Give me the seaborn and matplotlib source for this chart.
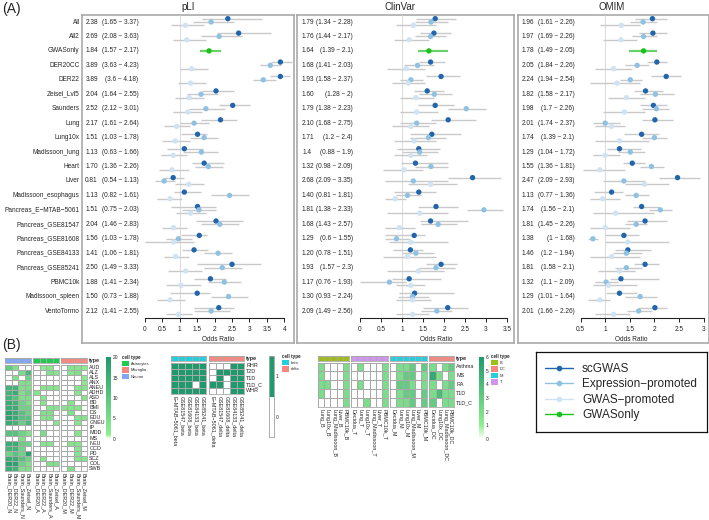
import numpy as np
import pandas as pd
import matplotlib
matplotlib.use("Agg")
import matplotlib.pyplot as plt
import matplotlib.transforms as mtransforms
from matplotlib.colors import LinearSegmentedColormap, ListedColormap
from matplotlib.lines import Line2D
from matplotlib.patches import Patch
import seaborn as sns

sns.set_style("white")
plt.rcParams["font.family"] = ["Liberation Sans", "DejaVu Sans"]

# ---------------------------------------------------------------- data (A)
rows = ["All", "All2", "GWASonly", "DER20CC", "DER22", "Zeisel_Lvl5", "Saunders",
        "Lung", "Lung10x", "Madissoon_lung", "Heart", "Liver", "Madissoon_esophagus",
        "Pancreas_E\u2212MTAB\u22125061", "Pancreas_GSE81547", "Pancreas_GSE81608",
        "Pancreas_GSE84133", "Pancreas_GSE85241", "PBMC10k", "Madissoon_spleen", "VentoTormo"]

pli_sc_or = ["2.38", "2.69", "1.84", "3.89", "3.89", "2.04", "2.52", "2.17", "1.51", "1.13", "1.70",
             "0.81", "1.13", "1.51", "2.04", "1.56", "1.41", "2.50", "1.88", "1.50", "2.12"]
pli_sc_lo = ["1.65", "2.08", "1.57", "3.63", "3.6", "1.64", "2.12", "1.61", "1.03", "0.63", "1.36",
             "0.54", "0.82", "0.75", "1.46", "1.03", "1.06", "1.49", "1.41", "0.73", "1.41"]
pli_sc_hi = ["3.37", "3.63", "2.17", "4.23", "4.18", "2.55", "3.01", "2.64", "1.78", "1.66", "2.26",
             "1.13", "1.61", "2.03", "2.83", "1.78", "1.81", "3.33", "2.34", "1.88", "2.55"]
pli_ex_or = [1.90, 2.13, np.nan, 3.60, 3.40, 1.61, 1.75, 1.41, 1.70, 1.62, 1.82, 0.55, 2.43, 1.55, 2.15, 0.96, 2.10, 2.22, 2.28, 2.40, 1.90]
pli_ex_lo = [1.38, 1.60, np.nan, 3.30, 3.10, 1.20, 1.25, 1.00, 1.30, 1.10, 1.45, 0.30, 1.90, 1.05, 1.60, 0.60, 1.70, 1.70, 1.80, 1.90, 1.40]
pli_ex_hi = [2.55, 2.80, np.nan, 3.90, 3.75, 2.10, 2.30, 1.85, 2.10, 2.10, 2.25, 0.85, 3.00, 2.05, 2.70, 1.35, 2.50, 2.80, 2.75, 2.95, 2.45]
pli_gp_or = [1.16, 1.20, np.nan, 1.34, 1.31, 1.27, 1.23, 0.91, 0.87, 0.81, 0.78, 1.26, 0.72, 1.31, 0.82, 0.82, 0.88, 1.17, 1.03, 0.72, 0.96]
pli_gp_lo = [0.75, 0.80, np.nan, 1.00, 0.95, 0.85, 0.80, 0.55, 0.50, 0.45, 0.40, 0.85, 0.35, 0.90, 0.50, 0.00, 0.55, 0.65, 0.60, 0.35, 0.60]
pli_gp_hi = [1.70, 1.75, np.nan, 1.80, 1.75, 1.70, 1.65, 1.30, 1.30, 1.20, 1.25, 1.70, 1.05, 1.75, 1.20, 1.40, 1.25, 1.65, 1.60, 1.15, 1.35]

clin_sc_or = ["1.79", "1.76", "1.64", "1.68", "1.93", "1.60", "1.79", "2.10", "1.71", "1.4", "1.32",
              "2.68", "1.40", "1.81", "1.68", "1.29", "1.20", "1.93", "1.17", "1.30", "2.09"]
clin_sc_lo = ["1.34", "1.44", "1.39", "1.41", "1.58", "1.28", "1.38", "1.68", "1.2", "0.88", "0.98",
              "2.09", "0.81", "1.38", "1.43", "0.6", "0.78", "1.57", "0.76", "0.93", "1.49"]
clin_sc_hi = ["2.28", "2.17", "2.1", "2.03", "2.37", "2", "2.23", "2.75", "2.4", "1.9", "2.09",
              "3.35", "1.81", "2.33", "2.57", "1.55", "1.51", "2.3", "1.93", "2.24", "2.56"]
clin_ex_or = [1.69, 1.68, np.nan, 1.37, 1.21, 1.77, 2.53, 1.35, 1.63, 1.42, 1.69, 1.27, 1.13, 2.95, 1.86, 0.87, 1.33, 1.81, 0.70, 1.25, 1.83]
clin_ex_lo = [1.30, 1.30, np.nan, 1.05, 0.95, 1.40, 2.10, 0.95, 1.20, 1.00, 1.30, 0.60, 0.85, 2.55, 1.45, 0.60, 1.00, 1.40, 0.00, 0.90, 1.45]
clin_ex_hi = [2.10, 2.05, np.nan, 1.75, 1.50, 2.20, 3.00, 1.80, 2.05, 1.85, 2.10, 2.10, 1.45, 3.40, 2.30, 1.20, 1.75, 2.25, 1.10, 1.65, 2.20]
clin_gp_or = [1.27, 1.17, np.nan, 1.10, 1.15, 1.33, 1.35, 1.21, 1.29, 1.21, 1.05, 1.68, 0.84, 1.42, 0.94, 1.21, 1.13, 1.39, 1.21, 1.25, 1.25]
clin_gp_lo = [0.85, 0.80, np.nan, 0.65, 0.75, 0.95, 0.95, 0.75, 0.80, 0.80, 0.55, 1.15, 0.60, 0.65, 0.60, 0.70, 0.55, 0.65, 0.85, 0.85, 0.85]
clin_gp_hi = [1.80, 1.65, np.nan, 1.55, 1.55, 1.75, 1.85, 1.65, 1.80, 1.60, 1.50, 2.30, 1.10, 2.10, 1.30, 2.10, 1.80, 2.00, 1.55, 1.70, 1.65]

omim_sc_or = ["1.96", "1.97", "1.78", "2.05", "2.24", "1.82", "1.98", "2.01", "1.74", "1.29", "1.55",
              "2.47", "1.13", "1.74", "1.81", "1.38", "1.46", "1.81", "1.32", "1.29", "2.01"]
omim_sc_lo = ["1.61", "1.69", "1.49", "1.84", "1.94", "1.58", "1.7", "1.74", "1.39", "1.04", "1.36",
              "2.09", "0.77", "1.56", "1.45", "1", "1.2", "1.58", "1.1", "1.01", "1.66"]
omim_sc_hi = ["2.26", "2.26", "2.05", "2.26", "2.54", "2.17", "2.26", "2.37", "2.1", "1.72", "1.81",
              "2.93", "1.36", "2.1", "2.26", "1.68", "1.94", "2.1", "2.09", "1.64", "2.26"]
omim_ex_or = [1.77, 1.78, np.nan, 1.65, 1.51, 2.02, 2.04, 1.00, 2.00, 1.51, 1.94, 1.38, 1.63, 2.12, 1.63, 0.75, 1.43, 1.43, 1.02, 1.71, 1.68]
omim_ex_lo = [1.50, 1.55, np.nan, 1.40, 1.30, 1.70, 1.75, 0.75, 1.75, 1.25, 1.70, 0.95, 1.40, 1.90, 1.40, 0.65, 1.15, 1.20, 0.80, 1.40, 1.45]
omim_ex_hi = [2.05, 2.05, np.nan, 1.90, 1.75, 2.40, 2.30, 1.30, 2.25, 1.80, 2.20, 1.80, 1.90, 2.35, 1.85, 0.85, 1.75, 1.75, 1.25, 2.05, 1.95]
omim_gp_or = [1.33, 1.32, np.nan, 1.17, 1.24, 1.43, 1.39, 1.13, 1.29, 1.00, 0.89, 1.80, 0.95, 1.21, 1.00, 1.46, 1.13, 1.29, 1.07, 0.89, 1.17]
omim_gp_lo = [0.90, 0.95, np.nan, 0.80, 0.70, 1.05, 0.95, 0.80, 0.80, 0.75, 0.55, 1.40, 0.70, 0.75, 0.70, 1.00, 0.70, 0.85, 0.75, 0.65, 0.80]
omim_gp_hi = [1.70, 1.65, np.nan, 1.55, 1.70, 1.80, 1.80, 1.40, 1.90, 1.30, 1.40, 2.30, 1.30, 2.00, 1.50, 2.30, 1.70, 1.60, 1.65, 1.10, 1.50]

series_names = ["scGWAS", "Expression\u2212promoted", "GWAS\u2212promoted", "GWASonly"]
series_colors = ["#2166ad", "#8fc2e2", "#d0e3f3", "#19c419"]
series_lines = ["#c9c9c9", "#c9c9c9", "#c9c9c9", "#6ad26a"]

# ---------------------------------------------------------------- data (B)
hm1_rows = ["AUD", "ALZ", "ALS", "ANX", "ANEU", "ADHD", "ASD", "BD", "BMI", "DS", "EDU", "GNEU",
            "IP", "MDD", "MS", "NEU", "OCD", "PD", "SCZ", "COL", "SWB"]
hm1_groups = ["Neuron", "Astrocytes", "Microglia"]
hm1_cols = [["Brain_DER20_N", "Brain_DER22_N", "Brain_Saunders_N", "Brain_Zeisel_N"],
            ["Brain_DER20_A", "Brain_DER22_A", "Brain_Saunders_A", "Brain_Zeisel_A"],
            ["Brain_DER20_M", "Brain_DER22_M", "Brain_Saunders_M", "Brain_Zeisel_M"]]
hm1_values = [
    [9, 4, 0, 0, 0, 2, 3, 0, 0, 3, 3, 2],
    [0, 0, 5, 13, 0, 0, 4, 3, 0, 3, 4, 0],
    [0, 4, 0, 7, 0, 0, 0, 0, 0, 0, 0, 2],
    [0, 0, 4, 4, 0, 0, 0, 0, 0, 0, 0, 2],
    [14, 14, 4, 4, 0, 3, 3, 3, 0, 0, 3, 3],
    [14, 16, 4, 7, 3, 0, 0, 0, 0, 0, 3, 0],
    [14, 11, 4, 4, 0, 3, 0, 0, 0, 0, 0, 3],
    [16, 14, 7, 4, 0, 3, 0, 0, 0, 3, 0, 0],
    [16, 16, 7, 7, 0, 0, 3, 3, 3, 3, 3, 0],
    [18, 16, 11, 7, 0, 4, 4, 0, 0, 4, 0, 0],
    [18, 16, 11, 11, 0, 3, 4, 0, 0, 0, 3, 3],
    [16, 14, 8, 13, 0, 0, 0, 3, 0, 0, 3, 0],
    [0, 0, 0, 0, 0, 0, 0, 0, 0, 0, 0, 0],
    [11, 11, 7, 4, 0, 5, 0, 0, 0, 0, 3, 0],
    [0, 0, 4, 0, 0, 0, 0, 0, 0, 0, 0, 0],
    [16, 16, 8, 7, 0, 3, 3, 0, 0, 3, 3, 0],
    [14, 14, 7, 0, 0, 0, 0, 0, 0, 0, 3, 0],
    [7, 11, 7, 18, 0, 0, 0, 0, 0, 0, 3, 0],
    [16, 16, 11, 7, 0, 3, 0, 0, 0, 0, 3, 3],
    [18, 18, 7, 4, 0, 0, 4, 4, 0, 0, 0, 0],
    [16, 14, 4, 4, 0, 0, 0, 0, 0, 4, 0, 0],
]
hm1_ticks = [0, 5, 10, 15, 20]

hm2_rows = ["RHR", "T2D", "T1D", "T1D_C", "WHR"]
hm2_groups = ["beta", "delta"]
hm2_cols = [["E\u2212MTAB\u22125061_beta", "GSE81547_beta", "GSE81608_beta", "GSE84133_beta", "GSE85241_beta"],
            ["E\u2212MTAB\u22125061_delta", "GSE81547_delta", "GSE81608_delta", "GSE84133_delta", "GSE85241_delta"]]
hm2_values = [
    [1, 1, 1, 1, 1, 0, 0, 0, 1, 1],
    [1, 1, 1, 1, 1, 0, 1, 1, 1, 1],
    [1, 1, 1, 1, 1, 0, 1, 0, 1, 1],
    [1, 1, 1, 0, 1, 1, 1, 0, 1, 1],
    [1, 1, 1, 1, 1, 0, 0, 0, 1, 1],
]

hm3_rows = ["Asthma", "MS", "RA", "T1D", "T1D_C"]
hm3_groups = ["B", "T", "M", "DC"]
hm3_cols = [["Lung_B", "Lung10x_B", "Lung_Madissoon_B", "Liver_B", "PBMC10k_B"],
            ["Decidua_T", "Lung_T", "Lung10x_T", "Lung_Madissoon_T", "Liver_T", "PBMC10k_T"],
            ["Decidua_M", "Lung_M", "Lung10x_M", "Lung_Madissoon_M", "Liver_M", "PBMC10k_M"],
            ["Decidua_DC", "Lung10x_DC", "Lung_Madissoon_DC", "PBMC10k_DC"]]
hm3_values = [
    [2, 0, 0, 0, 2, 0, 2, 0, 0, 0, 2, 0, 2, 2, 3, 0, 3, 2, 0, 2, 3],
    [2, 0, 0, 0, 2, 0, 0, 0, 0, 0, 2, 0, 2, 3, 3, 0, 2, 5, 2, 0, 2],
    [2, 2, 0, 0, 2, 0, 2, 0, 0, 0, 2, 0, 3, 3, 2, 0, 2, 2, 0, 2, 3],
    [2, 0, 0, 0, 2, 0, 0, 0, 0, 0, 2, 0, 2, 3, 3, 0, 3, 2, 4, 2, 2],
    [0, 0, 0, 0, 2, 0, 0, 2, 0, 0, 2, 0, 2, 2, 3, 0, 3, 3, 0, 2, 2],
]
hm3_ticks = [0, 1, 2, 3, 4, 5, 6]

celltype_colors = {"Neuron": "#80a6f6", "Astrocytes": "#1ecb4e", "Microglia": "#f7877f",
                   "beta": "#23cfdd", "delta": "#f7877f",
                   "B": "#9fbd17", "T": "#cf95ef", "M": "#23cfdd", "DC": "#f7877f"}

# ---------------------------------------------------------------- layout helpers
W, H = 709, 520
fig = plt.figure(figsize=(W / 100, H / 100), dpi=100)
fig.patch.set_facecolor("white")


def box(x0, y0, x1, y1):
    return [x0 / W, 1 - y1 / H, (x1 - x0) / W, (y1 - y0) / H]


FRAME = "#a3a3a3"
ROW0, ROWH, OFF = 22.0, 14.45, 0.23
TOP, AXY, BOT = 15, 318, 343
FS = 4.7


def forest(title, title_x, fx0, fx1, ax0, ax1, a, b, ticks, val_x, ci_x,
           sc_or, sc_lo, sc_hi, ex_or, ex_lo, ex_hi, gp_or, gp_lo, gp_hi, show_rows):
    fr = fig.add_axes(box(fx0, TOP, fx1, BOT))
    fr.set_xticks([]); fr.set_yticks([])
    fr.patch.set_visible(False)
    for s in fr.spines.values():
        s.set_visible(True); s.set_color(FRAME); s.set_linewidth(1.1)
    fig.text(title_x / W, 1 - 7 / H, title, fontsize=7, ha="center", va="center")

    ax = fig.add_axes(box(ax0, TOP, ax1, AXY))
    ax.patch.set_visible(False)
    recs = []
    for i, r in enumerate(rows):
        if r == "GWASonly":
            recs.append((float(sc_or[i]), float(sc_lo[i]), float(sc_hi[i]), i, series_names[3]))
        else:
            recs.append((float(sc_or[i]), float(sc_lo[i]), float(sc_hi[i]), i - OFF, series_names[0]))
            recs.append((ex_or[i], ex_lo[i], ex_hi[i], i, series_names[1]))
            recs.append((gp_or[i], gp_lo[i], gp_hi[i], i + OFF, series_names[2]))
    df = pd.DataFrame(recs, columns=["odds", "lo", "hi", "y", "series"])
    ax.axvline(1, color="#d6d6d6", lw=0.6, zorder=0)
    for k, name in enumerate(series_names):
        g = df[df["series"] == name]
        ax.hlines(g["y"], g["lo"], g["hi"], colors=series_lines[k],
                  lw=1.6 if name == "GWASonly" else 1.0, zorder=1, clip_on=False)
    sns.scatterplot(data=df, x="odds", y="y", hue="series", hue_order=series_names,
                    palette=dict(zip(series_names, series_colors)), s=15, linewidth=0,
                    legend=False, ax=ax, zorder=3, clip_on=False)
    ax.set_xlim((ax0 - a) / b, (ax1 - a) / b)
    ax.set_ylim((AXY - ROW0) / ROWH, (TOP - ROW0) / ROWH)
    for s in ["top", "left", "right"]:
        ax.spines[s].set_visible(False)
    ax.spines["bottom"].set_visible(True)
    ax.spines["bottom"].set_color("#222222")
    ax.spines["bottom"].set_linewidth(0.8)
    ax.spines["bottom"].set_bounds(ticks[0], ticks[-1])
    ax.set_xticks(ticks)
    ax.set_xticklabels([f"{t:g}" for t in ticks])
    ax.set_yticks([])
    ax.tick_params(axis="x", length=3, width=0.7, color="#222222", labelsize=FS,
                   labelcolor="#222222", pad=3, bottom=True)
    ax.set_xlabel("Odds Ratio", fontsize=FS, labelpad=2, color="#222222")
    ax.set_ylabel("")

    tr = mtransforms.blended_transform_factory(fig.transFigure, ax.transData)
    for i, r in enumerate(rows):
        ax.text(val_x / W, i, sc_or[i], transform=tr, fontsize=FS, ha="center", va="center")
        ax.text(ci_x / W, i, f"({sc_lo[i]} ~ {sc_hi[i]})", transform=tr, fontsize=FS,
                ha="right", va="center")
        if show_rows:
            ax.text(79.7 / W, i, r, transform=tr, fontsize=FS, ha="right", va="center")


forest("pLI", 188, 82, 294, 145, 292, 145.0, 34.8, [0, 0.5, 1, 1.5, 2, 2.5, 3, 3.5, 4], 91.5, 138.3,
       pli_sc_or, pli_sc_lo, pli_sc_hi, pli_ex_or, pli_ex_lo, pli_ex_hi,
       pli_gp_or, pli_gp_lo, pli_gp_hi, True)
forest("ClinVar", 400, 297, 514, 360, 512, 360.0, 42.0, [0, 0.5, 1, 1.5, 2, 2.5, 3, 3.5], 307.5, 352.7,
       clin_sc_or, clin_sc_lo, clin_sc_hi, clin_ex_or, clin_ex_lo, clin_ex_hi,
       clin_gp_or, clin_gp_lo, clin_gp_hi, False)
forest("OMIM", 612, 518, 709, 556, 707, 556.0, 49.2, [0.5, 1, 1.5, 2, 2.5, 3], 527.8, 574.3,
       omim_sc_or, omim_sc_lo, omim_sc_hi, omim_ex_or, omim_ex_lo, omim_ex_hi,
       omim_gp_or, omim_gp_lo, omim_gp_hi, False)

fig.text(2 / W, 1 - 9 / H, "(A)", fontsize=10, ha="left", va="center")
fig.text(2 / W, 1 - 345 / H, "(B)", fontsize=10, ha="left", va="center")

# ---------------------------------------------------------------- heatmaps (B)
GRID = "#a9a9a9"
HFS = 3.9
LIGHT, DARK = "#90ee90", "#1f9a6c"


def green_cmap(vmax):
    return LinearSegmentedColormap.from_list("g", [(0, "white"), (1.0 / vmax, LIGHT), (1, DARK)])


def heat_block(values, rows_, groups, cols, xs, y_anno, y_grid, cmap, vmin, vmax, cax, cticks):
    start = 0
    for gi, (grp, cl) in enumerate(zip(groups, cols)):
        x0, x1 = xs[gi]
        n = len(cl)
        sub = pd.DataFrame([r[start:start + n] for r in values], index=rows_, columns=cl)
        start += n
        an = fig.add_axes(box(x0, y_anno[0], x1, y_anno[1]))
        sns.heatmap(pd.DataFrame(np.zeros((1, n))), ax=an,
                    cmap=ListedColormap([celltype_colors[grp]]), cbar=False,
                    linewidths=0.5, linecolor=GRID, xticklabels=False, yticklabels=False)
        for s in an.spines.values():
            s.set_visible(True); s.set_color(GRID); s.set_linewidth(0.6)
        last = gi == len(groups) - 1
        if last:
            an.text(1.0 + 2.0 / (x1 - x0), 0.5, "type", transform=an.transAxes,
                    fontsize=HFS, fontweight="bold", ha="left", va="center")
        ax = fig.add_axes(box(x0, y_grid[0], x1, y_grid[1]))
        use_cbar = cax is not None and gi == 0
        sns.heatmap(sub, ax=ax, cmap=cmap, vmin=vmin, vmax=vmax, linewidths=0.5, linecolor=GRID,
                    cbar=use_cbar, cbar_ax=cax if use_cbar else None,
                    cbar_kws={"ticks": cticks} if use_cbar else None,
                    xticklabels=True, yticklabels=last)
        ax.set_xlabel(""); ax.set_ylabel("")
        ax.tick_params(length=0, pad=1.5, labelsize=HFS)
        plt.setp(ax.get_xticklabels(), rotation=-90, ha="center", va="top")
        if last:
            ax.yaxis.tick_right()
            ax.tick_params(axis="y", length=0, pad=1.5)
            plt.setp(ax.get_yticklabels(), rotation=0, ha="left", va="center")
        for s in ax.spines.values():
            s.set_visible(True); s.set_color(GRID); s.set_linewidth(0.6)
        if use_cbar:
            cb = ax.collections[0].colorbar
            cb.outline.set_visible(False)
            cax.tick_params(labelsize=3.5, length=0, pad=1.5)


def ct_legend(x, y, names):
    handles = [Patch(facecolor=celltype_colors[n], edgecolor="none") for n in names]
    lg = fig.legend(handles, names, title="cell type", loc="upper left",
                    bbox_to_anchor=(x / W, 1 - y / H), fontsize=2.9, title_fontsize=3.3,
                    frameon=False, handlelength=1.7, handleheight=1.7, handletextpad=0.5,
                    labelspacing=0.25, borderpad=0, borderaxespad=0, alignment="left")
    lg.get_title().set_fontweight("bold")


# heatmap 1
cax1 = fig.add_axes(box(106, 357, 111, 439))
heat_block(hm1_values, hm1_rows, hm1_groups, hm1_cols,
           [(5, 31.4), (32.9, 59.3), (60.8, 87.2)], (358, 363), (364.5, 471),
           green_cmap(20), 0, 20, cax1, hm1_ticks)
ct_legend(122, 355, ["Astrocytes", "Microglia", "Neuron"])

# heatmap 2 (binary)
cax2 = fig.add_axes(box(269, 356, 274, 437))
heat_block(hm2_values, hm2_rows, hm2_groups, hm2_cols,
           [(171, 206), (209, 244)], (356, 361), (362.5, 394),
           ListedColormap(["white", DARK]), 0, 1, cax2, [0.25, 0.75])
cax2.set_yticks([0.25, 0.75])
cax2.set_yticklabels(["0", "1"])
for s in cax2.spines.values():
    s.set_visible(True); s.set_color(GRID); s.set_linewidth(0.5)
ct_legend(282, 354, ["beta", "delta"])

# heatmap 3
cax3 = fig.add_axes(box(479, 357, 484, 439))
heat_block(hm3_values, hm3_rows, hm3_groups, hm3_cols,
           [(318, 349), (351, 388.2), (390.2, 427.4), (429.4, 454.2)], (356, 361), (362.5, 407),
           green_cmap(6), 0, 6, cax3, hm3_ticks)
ct_legend(491, 354, ["B", "DC", "M", "T"])

# ---------------------------------------------------------------- main legend
lax = fig.add_axes(box(536, 352, 707, 432))
lax.set_xticks([]); lax.set_yticks([])
for s in lax.spines.values():
    s.set_visible(True); s.set_color("#111111"); s.set_linewidth(0.9)
handles = [Line2D([0], [0], color=c, marker="o", markersize=3, lw=1.0) for c in series_colors]
lax.legend(handles, series_names, loc="center left", frameon=False, fontsize=8.5,
           handlelength=2.3, labelspacing=0.3, handletextpad=0.8, borderaxespad=0.4)

fig.savefig("out.png", dpi=100, facecolor="white")
